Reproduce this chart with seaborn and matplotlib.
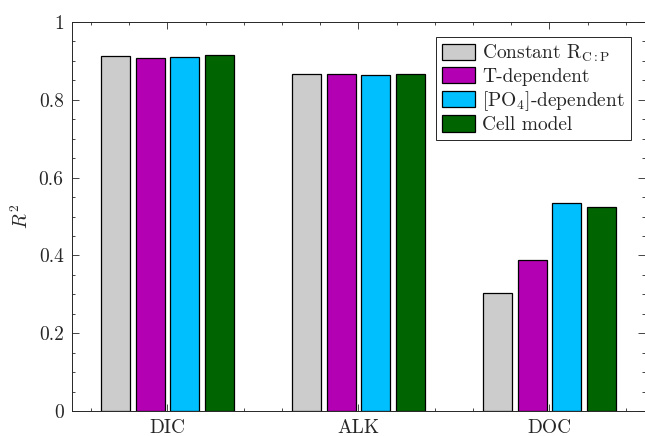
import matplotlib
matplotlib.use("Agg")
import matplotlib.pyplot as plt
import numpy as np
import pandas as pd
import seaborn as sns
from matplotlib.ticker import MultipleLocator, FixedLocator

tracers = ["DIC", "ALK", "DOC"]
models = ["Constant R$_{\\mathrm{C{:}P}}$", "T-dependent", "[PO$_4$]-dependent", "Cell model"]
colors = ["#CCCCCC", "#B300B3", "#00BFFF", "#006400"]
r2_constant = [0.913, 0.866, 0.303]
r2_tdep = [0.907, 0.866, 0.388]
r2_po4dep = [0.910, 0.864, 0.535]
r2_cell = [0.915, 0.866, 0.524]
yticks = [0, 0.2, 0.4, 0.6, 0.8, 1]
ytick_labels = ["0", "0.2", "0.4", "0.6", "0.8", "1"]

sns.set_theme(style="ticks")
plt.rcParams["font.family"] = ["cmr10", "DejaVu Serif"]
plt.rcParams["mathtext.fontset"] = "cm"
plt.rcParams["axes.formatter.use_mathtext"] = True
plt.rcParams["axes.unicode_minus"] = False

rows = []
for m, vals in zip(models, [r2_constant, r2_tdep, r2_po4dep, r2_cell]):
    for t, v in zip(tracers, vals):
        rows.append({"tracer": t, "model": m, "r2": v})
df = pd.DataFrame(rows)

fig = plt.figure(figsize=(6.45, 4.36), dpi=100)
ax = fig.add_axes([0.1116, 0.0573, 0.8884, 0.8922])

sns.barplot(data=df, x="tracer", y="r2", hue="model", order=tracers,
            hue_order=models, palette=colors, width=0.73, gap=0.17,
            edgecolor="black", linewidth=0.9, saturation=1, ax=ax)

ax.set_xlim(-0.5, 2.5)
ax.set_ylim(0, 1)
ax.set_yticks(yticks)
ax.set_yticklabels(ytick_labels)
ax.yaxis.set_minor_locator(MultipleLocator(0.05))
ax.xaxis.set_minor_locator(FixedLocator(np.arange(-0.4, 2.5, 0.2)))
ax.set_xlabel("")
ax.set_ylabel("$R^2$", fontsize=14, labelpad=5)

for s in ax.spines.values():
    s.set_visible(True)
    s.set_color("#262626")
    s.set_linewidth(0.7)
ax.tick_params(which="both", direction="in", top=True, right=True,
               labelsize=14, color="#262626", width=0.6)
ax.tick_params(which="major", length=5, pad=6)
ax.tick_params(which="minor", length=2.5)

handles, labels = ax.get_legend_handles_labels()
leg = ax.legend(handles, labels, loc="upper right", bbox_to_anchor=(0.9756, 0.9614),
                fontsize=14, frameon=True, fancybox=False, framealpha=1,
                edgecolor="#262626", handlelength=1.7, handleheight=0.9,
                labelspacing=0.15, borderpad=0.3, handletextpad=0.36, borderaxespad=0)
leg.get_frame().set_linewidth(0.7)

fig.savefig("out.png", dpi=100)
